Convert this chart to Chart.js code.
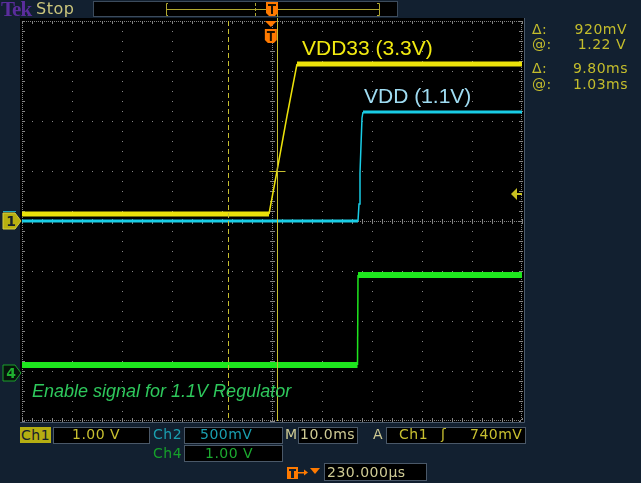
<!DOCTYPE html>
<html>
<head>
<meta charset="utf-8">
<script src="https://cdn.jsdelivr.net/npm/chart.js@4.4.0/dist/chart.umd.min.js"></script>
<style>
html, body { margin: 0; padding: 0; background: #122030; }
#wrap { position: relative; width: 641px; height: 483px; overflow: hidden; background: #122030; font-family: "DejaVu Sans", sans-serif; }
#scope { position: absolute; left: 0; top: 0; }
.t { position: absolute; white-space: nowrap; font-size: 14px; line-height: 16px; letter-spacing: 0.5px; }
.box { position: absolute; background: #000; border: 1px solid #4a5868; box-sizing: border-box; }
.lbl { position: absolute; white-space: nowrap; font-family: "Liberation Sans", Arial, sans-serif; }
</style>
</head>
<body>
<div id="wrap">
  <canvas id="scope" width="641" height="483"></canvas>

  <div class="t" style="left:1px;top:-1px;font-family:'Liberation Serif',serif;font-weight:bold;font-size:21px;line-height:20px;color:#5a2d9c;letter-spacing:-1px;">Tek</div>
  <div class="t" style="left:36px;top:0px;font-size:16px;line-height:18px;color:#cbc67c;">Stop</div>

  <!-- trace labels -->
  <div class="lbl" style="left:302px;top:37px;font-size:21px;line-height:21px;color:#f2ea10;">VDD33 (3.3V)</div>
  <div class="lbl" style="left:364px;top:85px;font-size:21px;line-height:21px;color:#9fdcf2;">VDD (1.1V)</div>
  <div class="lbl" style="left:32px;top:382px;font-size:18px;line-height:18px;font-style:italic;color:#2ec85c;">Enable signal for 1.1V Regulator</div>

  <!-- cursor readouts -->
  <div class="t" style="left:532px;top:21px;color:#c4bd2c;">Δ:</div>
  <div class="t" style="right:14px;top:21px;color:#c4bd2c;">920mV</div>
  <div class="t" style="left:532px;top:36px;color:#c4bd2c;">@:</div>
  <div class="t" style="right:15px;top:36px;color:#c4bd2c;">1.22 V</div>
  <div class="t" style="left:532px;top:60px;color:#c4bd2c;">Δ:</div>
  <div class="t" style="right:13px;top:60px;color:#c4bd2c;">9.80ms</div>
  <div class="t" style="left:532px;top:76px;color:#c4bd2c;">@:</div>
  <div class="t" style="right:13px;top:76px;color:#c4bd2c;">1.03ms</div>

  <!-- bottom status -->
  <div class="t" style="left:20px;top:427px;width:31px;height:16px;background:#b5ae12;color:#16202c;padding-left:1px;box-sizing:border-box;">Ch1</div>
  <div class="box" style="left:53px;top:427px;width:97px;height:17px;"></div>
  <div class="t" style="left:72px;top:426px;color:#c8c030;">1.00 V</div>
  <div class="t" style="left:153px;top:426px;color:#1a9fb0;">Ch2</div>
  <div class="box" style="left:184px;top:427px;width:99px;height:17px;"></div>
  <div class="t" style="left:200px;top:426px;color:#1a9fb0;">500mV</div>
  <div class="t" style="left:285px;top:426px;color:#cfcb94;">M</div>
  <div class="box" style="left:298px;top:427px;width:60px;height:17px;"></div>
  <div class="t" style="left:300px;top:426px;color:#cfcb94;">10.0ms</div>
  <div class="t" style="left:373px;top:426px;color:#cfcb94;">A</div>
  <div class="box" style="left:386px;top:427px;width:140px;height:17px;"></div>
  <div class="t" style="left:399px;top:426px;color:#c8c030;">Ch1</div>
  <div class="t" style="left:441px;top:426px;color:#c8c030;">ʃ</div>
  <div class="t" style="left:470px;top:426px;color:#c8c030;">740mV</div>

  <div class="t" style="left:153px;top:445px;color:#16a02a;">Ch4</div>
  <div class="box" style="left:184px;top:445px;width:99px;height:17px;"></div>
  <div class="t" style="left:205px;top:445px;color:#1caa30;">1.00 V</div>

  <div class="box" style="left:324px;top:463px;width:103px;height:18px;"></div>
  <div class="t" style="left:327px;top:464px;color:#cfcb94;">230.000µs</div>
</div>

<script>
// Time axis in ms, 0 = centre of screen, 10 ms/div
const xMin = -50;
const xMax = 50;
const yMinDiv = -4;
const yMaxDiv = 4;

// Ch1 (VDD33), 1.00 V/div
const ch1Time = [-50, -0.6, 1.0, 3.0, 5.0, 50];
const ch1Volts = [0.14, 0.14, 1.0, 2.1, 3.14, 3.14];
const ch1VoltsPerDiv = 1.0;
const ch1Ground = 0;

// Ch2 (VDD 1.1V), 500 mV/div
const ch2Time = [-50, 17.2, 17.4, 17.6, 17.8, 18.0, 18.2, 50];
const ch2Volts = [0, 0, 0.17, 0.48, 0.76, 1.03, 1.09, 1.09];
const ch2VoltsPerDiv = 0.5;
const ch2Ground = 0;

// Ch4 (regulator enable), 1.00 V/div
const ch4Time = [-50, 17.1, 17.2, 50];
const ch4Volts = [0.16, 0.16, 1.96, 1.96];
const ch4VoltsPerDiv = 1.0;
const ch4Ground = -3.04;

// cursors and trigger
const cursorTimes = [-8.8, 1.0];
const cursorLevel = 1.0;        // Ch1 volts
const triggerTime = -0.23;
const triggerArrowLevel = 0.54; // Ch1 volts, as drawn on screen

function trace(times, volts, vPerDiv, ground) {
    return times.map((t, i) => ({ x: t, y: volts[i] / vPerDiv + ground }));
}

// steep edges look thin, flat runs look like a noisy band
function edgeWidth(flat) {
    return function(c) {
        const dx = Math.abs(c.p1.x - c.p0.x);
        const dy = Math.abs(c.p1.y - c.p0.y);
        return dy > 2 * dx ? 1.5 : flat;
    };
}

const GRID = '#858585';

const scopeDecor = {
    id: 'scopeDecor',
    beforeDraw(chart) {
        const { ctx, chartArea: a } = chart;
        ctx.save();
        ctx.fillStyle = '#000';
        ctx.fillRect(a.left - 2, a.top - 3, a.width + 4, a.height + 4);
        ctx.strokeStyle = '#4b5a6b';
        ctx.lineWidth = 1;
        ctx.beginPath();
        ctx.moveTo(a.left - 2, a.bottom + 1.5);
        ctx.lineTo(a.right + 2.5, a.bottom + 1.5);
        ctx.lineTo(a.right + 2.5, a.top - 3);
        ctx.stroke();
        ctx.restore();
    },
    beforeDatasetsDraw(chart) {
        const { ctx, chartArea: a, scales } = chart;
        const xs = scales.x, ys = scales.y;
        const dot = (px, py) => ctx.fillRect(Math.round(px), Math.round(py), 1, 1);
        const cx = Math.round(xs.getPixelForValue(0));
        const cy = Math.round(ys.getPixelForValue(0));
        const L = Math.round(a.left), R = Math.round(a.right) - 1;
        const T = Math.round(a.top), B = Math.round(a.bottom) - 1;
        ctx.save();
        ctx.fillStyle = GRID;
        // dense dots on centre lines and frame
        for (let py = T; py <= B; py += 2) { dot(cx, py); dot(L, py); dot(R, py); }
        for (let px = L; px <= R; px += 2) { dot(px, cy); dot(px, T); dot(px, B); }
        // minor ticks every 0.2 div
        for (let v = xMin; v <= xMax; v += 2) {
            const px = xs.getPixelForValue(v);
            for (let k = 1; k <= 2; k++) { dot(px, cy - k); dot(px, cy + k); dot(px, T + k); dot(px, B - k); }
        }
        for (let v = yMinDiv; v <= yMaxDiv + 0.001; v += 0.2) {
            const py = ys.getPixelForValue(v);
            for (let k = 1; k <= 2; k++) { dot(cx - k, py); dot(cx + k, py); dot(L + k, py); dot(R - k, py); }
        }
        ctx.restore();
    },
    afterDatasetsDraw(chart) {
        const { ctx, chartArea: a, scales } = chart;
        const xs = scales.x, ys = scales.y;
        ctx.save();
        // time cursors
        ctx.strokeStyle = '#c8c030';
        ctx.lineWidth = 1;
        const c0 = Math.round(xs.getPixelForValue(cursorTimes[0])) + 0.5;
        const c1 = Math.round(xs.getPixelForValue(cursorTimes[1])) + 0.5;
        ctx.setLineDash([5, 3]);
        ctx.beginPath(); ctx.moveTo(c0, a.top); ctx.lineTo(c0, a.bottom); ctx.stroke();
        ctx.setLineDash([]);
        ctx.beginPath(); ctx.moveTo(c1, a.top - 3); ctx.lineTo(c1, a.bottom); ctx.stroke();
        const ly = Math.round(ys.getPixelForValue(cursorLevel / ch1VoltsPerDiv + ch1Ground)) + 0.5;
        ctx.beginPath(); ctx.moveTo(c1 - 8, ly); ctx.lineTo(c1 + 8, ly); ctx.stroke();

        // trigger level arrow (right edge)
        const ty = ys.getPixelForValue(triggerArrowLevel / ch1VoltsPerDiv + ch1Ground);
        ctx.fillStyle = '#c8c020';
        ctx.beginPath();
        ctx.moveTo(a.right - 11, ty); ctx.lineTo(a.right - 5, ty - 6); ctx.lineTo(a.right - 5, ty + 6);
        ctx.closePath(); ctx.fill();
        ctx.fillRect(a.right - 6, ty - 1, 6, 2);

        // trigger position marker (top)
        const tx = xs.getPixelForValue(triggerTime);
        drawTMarker(ctx, tx, a.top - 1, true);

        // ground markers
        const g1 = ys.getPixelForValue(ch1Ground);
        const g2 = ys.getPixelForValue(ch2Ground);
        const g4 = ys.getPixelForValue(ch4Ground);
        ctx.fillStyle = '#1ea8c0';
        ctx.fillRect(3, g2 - 10, 13, 1);
        pentagon(ctx, 3, g1, '#b8b010', '#d8d040');
        ctx.fillStyle = '#16202c';
        ctx.font = 'bold 14px "DejaVu Sans"';
        ctx.textAlign = 'center';
        ctx.textBaseline = 'middle';
        ctx.fillText('1', 11, g1 + 1);
        pentagon(ctx, 3, g4, '#07140c', '#1aa02a');
        ctx.fillStyle = '#20b030';
        ctx.fillText('4', 11, g4 + 1);
        ctx.restore();
    },
    afterDraw(chart) {
        const ctx = chart.ctx;
        ctx.save();
        // record bar
        ctx.fillStyle = '#000';
        ctx.fillRect(93, 1, 305, 16);
        ctx.strokeStyle = '#3c4b5c';
        ctx.strokeRect(93.5, 1.5, 304, 15);
        ctx.strokeStyle = '#b0a830';
        ctx.lineWidth = 1;
        ctx.beginPath();
        ctx.moveTo(166, 9.5); ctx.lineTo(379, 9.5);
        ctx.moveTo(168, 3.5); ctx.lineTo(166.5, 3.5); ctx.lineTo(166.5, 15.5); ctx.lineTo(168, 15.5);
        ctx.moveTo(377, 3.5); ctx.lineTo(379.5, 3.5); ctx.lineTo(379.5, 15.5); ctx.lineTo(377, 15.5);
        ctx.stroke();
        ctx.setLineDash([3, 2]);
        ctx.beginPath(); ctx.moveTo(255.5, 3); ctx.lineTo(255.5, 16); ctx.stroke();
        ctx.setLineDash([]);
        ctx.beginPath(); ctx.moveTo(277.5, 2); ctx.lineTo(277.5, 17); ctx.stroke();
        drawTMarker(ctx, 272, 2, false);

        // delay icon at bottom
        ctx.fillStyle = '#ff7a00';
        ctx.fillRect(287, 467, 11, 12);
        ctx.fillStyle = '#122030';
        ctx.fillRect(289, 469, 7, 2);
        ctx.fillRect(291, 469, 3, 9);
        ctx.fillStyle = '#ff7a00';
        ctx.fillRect(298, 472, 7, 1.5);
        ctx.beginPath(); ctx.moveTo(308, 472.5); ctx.lineTo(304, 469.5); ctx.lineTo(304, 475.5); ctx.closePath(); ctx.fill();
        ctx.beginPath(); ctx.moveTo(310, 468); ctx.lineTo(320, 468); ctx.lineTo(315, 474); ctx.closePath(); ctx.fill();
        ctx.restore();
    }
};

function pentagon(ctx, x, yMid, fill, stroke) {
    ctx.beginPath();
    ctx.moveTo(x, yMid - 8);
    ctx.lineTo(x + 12, yMid - 8);
    ctx.lineTo(x + 18, yMid);
    ctx.lineTo(x + 12, yMid + 8);
    ctx.lineTo(x, yMid + 8);
    ctx.closePath();
    ctx.fillStyle = fill;
    ctx.fill();
    ctx.strokeStyle = stroke;
    ctx.lineWidth = 1;
    ctx.stroke();
}

function drawTMarker(ctx, x, top, withArrow) {
    ctx.fillStyle = '#ff7a00';
    let y = top;
    if (withArrow) {
        ctx.beginPath();
        ctx.moveTo(x - 6, y + 1); ctx.lineTo(x + 6, y + 1); ctx.lineTo(x, y + 7);
        ctx.closePath(); ctx.fill();
        y += 9;
    }
    ctx.beginPath();
    ctx.moveTo(x - 6, y); ctx.lineTo(x + 6, y); ctx.lineTo(x + 6, y + 11);
    ctx.lineTo(x + 3, y + 14); ctx.lineTo(x - 3, y + 14); ctx.lineTo(x - 6, y + 11);
    ctx.closePath(); ctx.fill();
    ctx.fillStyle = '#1a1000';
    ctx.fillRect(x - 4, y + 2, 8, 2);
    ctx.fillRect(x - 1, y + 2, 2, 10);
}

const ctx = document.getElementById('scope');

new Chart(ctx, {
    type: 'line',
    data: {
        datasets: [
            {
                label: 'Ch4',
                data: trace(ch4Time, ch4Volts, ch4VoltsPerDiv, ch4Ground),
                borderColor: '#1ee61e',
                borderWidth: 6,
                segment: { borderWidth: edgeWidth(6) },
                pointRadius: 0,
                tension: 0
            },
            {
                label: 'Ch2',
                data: trace(ch2Time, ch2Volts, ch2VoltsPerDiv, ch2Ground),
                borderColor: '#19cde6',
                borderWidth: 3,
                segment: { borderWidth: edgeWidth(3) },
                pointRadius: 0,
                tension: 0
            },
            {
                label: 'Ch1',
                data: trace(ch1Time, ch1Volts, ch1VoltsPerDiv, ch1Ground),
                borderColor: '#ece20a',
                borderWidth: 5,
                segment: { borderWidth: edgeWidth(5) },
                pointRadius: 0,
                tension: 0
            }
        ]
    },
    options: {
        responsive: false,
        animation: false,
        events: [],
        layout: { padding: { left: 22, top: 21, right: 119, bottom: 62 } },
        plugins: {
            legend: { display: false },
            tooltip: { enabled: false }
        },
        scales: {
            x: {
                type: 'linear',
                min: xMin,
                max: xMax,
                ticks: { display: false, stepSize: 10 },
                grid: { color: GRID, lineWidth: 1, drawTicks: false },
                border: { display: false, dash: [1, 9] }
            },
            y: {
                type: 'linear',
                min: yMinDiv,
                max: yMaxDiv,
                ticks: { display: false, stepSize: 1 },
                grid: { color: GRID, lineWidth: 1, drawTicks: false },
                border: { display: false, dash: [1, 9] }
            }
        }
    },
    plugins: [scopeDecor]
});
</script>
</body>
</html>
